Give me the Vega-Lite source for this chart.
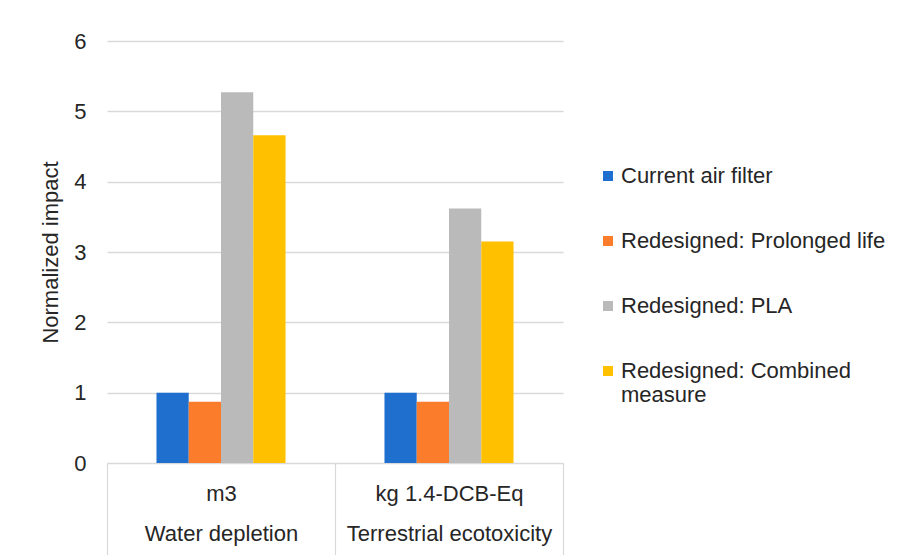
{
  "$schema": "https://vega.github.io/schema/vega-lite/v6.json",
  "width": 456,
  "height": 422,
  "autosize": {"type": "none"},
  "padding": {"left": 107, "top": 41, "right": 340, "bottom": 92},
  "background": "white",
  "config": {
    "view": {"stroke": null},
    "font": "Liberation Sans"
  },
  "data": {
    "values": [
      {"category": "m3|Water depletion", "series": "Current air filter", "value": 1.0},
      {"category": "m3|Water depletion", "series": "Redesigned: Prolonged life", "value": 0.87},
      {"category": "m3|Water depletion", "series": "Redesigned: PLA", "value": 5.27},
      {"category": "m3|Water depletion", "series": "Redesigned: Combined measure", "value": 4.66},
      {"category": "kg 1.4-DCB-Eq|Terrestrial ecotoxicity", "series": "Current air filter", "value": 1.0},
      {"category": "kg 1.4-DCB-Eq|Terrestrial ecotoxicity", "series": "Redesigned: Prolonged life", "value": 0.87},
      {"category": "kg 1.4-DCB-Eq|Terrestrial ecotoxicity", "series": "Redesigned: PLA", "value": 3.62},
      {"category": "kg 1.4-DCB-Eq|Terrestrial ecotoxicity", "series": "Redesigned: Combined measure", "value": 3.15}
    ]
  },
  "layer": [
    {
      "mark": {"type": "rule", "strokeOpacity": 0},
      "encoding": {
        "x": {
          "field": "category",
          "type": "nominal",
          "sort": null,
          "scale": {"paddingInner": 0, "paddingOuter": 0},
          "axis": {
            "title": null,
            "labelAngle": 0,
            "labelExpr": "split(datum.label, '|')",
            "labelFontSize": 22,
            "labelColor": "#262626",
            "labelLineHeight": 40,
            "labelBaseline": "top",
            "labelPadding": -72,
            "tickBand": "extent",
            "tickSize": 92,
            "tickColor": "#d9d9d9",
            "tickWidth": 1.2,
            "domainColor": "#d9d9d9",
            "domainWidth": 1.2,
            "grid": false,
            "labelLimit": 400
          }
        }
      }
    },
    {
      "mark": {"type": "bar"},
      "encoding": {
        "x": {
          "field": "category",
          "type": "nominal",
          "sort": null,
          "scale": {"paddingInner": 0.434, "paddingOuter": 0.217},
          "axis": null
        },
        "xOffset": {
          "field": "series",
          "type": "nominal",
          "sort": ["Current air filter", "Redesigned: Prolonged life", "Redesigned: PLA", "Redesigned: Combined measure"],
          "scale": {"paddingInner": 0, "paddingOuter": 0}
        },
        "y": {
          "field": "value",
          "type": "quantitative",
          "scale": {"domain": [0, 6], "nice": false},
          "axis": {
            "title": "Normalized impact",
            "titleFontSize": 22,
            "titleFontWeight": "normal",
            "titleColor": "#262626",
            "titlePadding": 11,
            "values": [0, 1, 2, 3, 4, 5, 6],
            "labelFontSize": 22,
            "labelColor": "#262626",
            "labelPadding": 21,
            "ticks": false,
            "domain": false,
            "grid": true,
            "gridColor": "#d9d9d9",
            "gridWidth": 1.5
          }
        },
        "color": {
          "field": "series",
          "type": "nominal",
          "scale": {
            "domain": ["Current air filter", "Redesigned: Prolonged life", "Redesigned: PLA", "Redesigned: Combined measure"],
            "range": ["#1f6fcf", "#fb7d2c", "#bababa", "#ffc000"]
          },
          "legend": {
            "title": null,
            "orient": "none",
            "legendX": 490,
            "legendY": 124,
            "symbolType": "square",
            "symbolSize": 100,
            "symbolStrokeWidth": 0,
            "labelFontSize": 22,
            "labelColor": "#262626",
            "labelOffset": 2,
            "rowPadding": 43,
            "labelLimit": 400,
            "labelExpr": "datum.label == 'Redesigned: Combined measure' ? ['Redesigned: Combined', 'measure'] : datum.label",
            "labelLineHeight": 30
          }
        }
      }
    }
  ],
  "resolve": {"scale": {"x": "independent"}}
}
